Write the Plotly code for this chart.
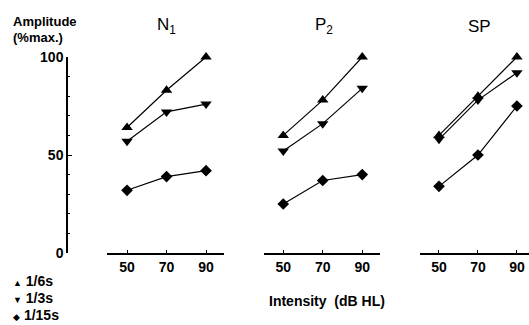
import plotly.graph_objects as go

W, H = 529, 325

intensity = [50, 70, 90]
ni_6 = [64, 83, 100]
ni_3 = [57, 72, 76]
ni_15 = [32, 39, 42]
p2_6 = [60, 78, 100]
p2_3 = [52, 66, 84]
p2_15 = [25, 37, 40]
sp_6 = [60, 80, 100]
sp_3 = [58, 78, 92]
sp_15 = [34, 50, 75]

panels = [("N<sub>1</sub>", ni_6, ni_3, ni_15),
          ("P<sub>2</sub>", p2_6, p2_3, p2_15),
          ("SP", sp_6, sp_3, sp_15)]
symbols = ["triangle-up", "triangle-down", "diamond"]
names = ["1/6s", "1/3s", "1/15s"]

FONT = "Liberation Sans"

def px(x):
    return x / W

def py(y):
    return 1 - y / H

fig = go.Figure()
axes = ["x", "x2", "x3"]
for i, (title, a, b, c) in enumerate(panels):
    for j, series in enumerate([a, b, c]):
        fig.add_trace(go.Scatter(
            x=intensity, y=series, xaxis=axes[i], yaxis="y",
            mode="lines+markers", name=names[j], showlegend=False,
            line=dict(color="black", width=1.2),
            marker=dict(symbol=symbols[j], size=10 if j < 2 else 9, color="black"),
            cliponaxis=False))

ydom = [py(253), py(57)]
xcommon = dict(range=[40, 99], tickvals=intensity, ticktext=[str(v) for v in intensity],
               showline=True, linecolor="black", linewidth=1.5, ticks="inside",
               ticklen=3, tickcolor="black", showgrid=False, zeroline=False,
               tickfont=dict(family=FONT, size=14, color="black", weight="bold"),
               anchor="y", fixedrange=True, automargin=False)

fig.update_layout(
    template="none",
    width=W, height=H, margin=dict(l=0, r=0, t=0, b=0, pad=0, autoexpand=False),
    paper_bgcolor="white", plot_bgcolor="white",
    xaxis=dict(domain=[px(107.3), px(223.8)], **xcommon),
    xaxis2=dict(domain=[px(263.5), px(380)], **xcommon),
    xaxis3=dict(domain=[px(419.5), 1.0], **{**xcommon, "range": [40, 96.2]}),
    yaxis=dict(domain=ydom, range=[0, 100], anchor="free", position=px(67),
               tickvals=[0, 50, 100], showline=True, linecolor="black", linewidth=1.5,
               ticks="inside", ticklen=4, tickcolor="black",
               minor=dict(tickvals=[10, 20, 30, 40, 60, 70, 80, 90], ticks="inside",
                          ticklen=2, tickcolor="black"),
               showgrid=False, zeroline=False, automargin=False,
               tickfont=dict(family=FONT, size=14, color="black", weight="bold"),
               fixedrange=True),
    showlegend=False,
)

def note(text, x, y, size, xanchor="center"):
    fig.add_annotation(text=text, x=px(x), y=py(y), xref="paper", yref="paper",
                       xanchor=xanchor, yanchor="middle", showarrow=False,
                       font=dict(family=FONT, size=size, color="black"))

titles = [(166, 26), (324, 26), (479, 27)]
for (title, *_), (tx, ty) in zip(panels, titles):
    note(title, tx, ty, 17)

note("<b>Amplitude</b>", 11, 21, 13, "left")
note("<b>(%max.)</b>", 11, 38, 13, "left")
note("<b>Intensity  (dB HL)</b>", 327, 301, 14)

leg_chars = ["▲", "▼", "◆"]
leg_y = [281, 298, 315]
for ch, nm, ly in zip(leg_chars, names, leg_y):
    note(f"<span style='font-size:9px'>{ch}</span> <b>{nm}</b>", 11, ly, 14, "left")

fig.write_html("out.html")
